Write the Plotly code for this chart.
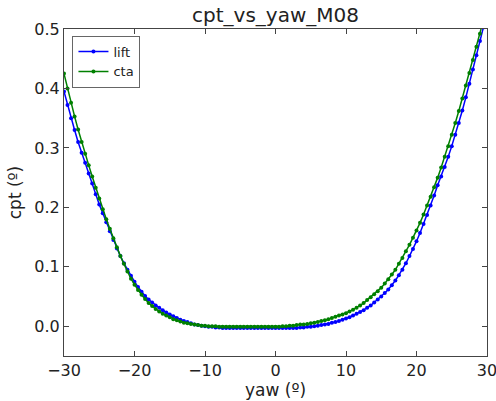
import plotly.graph_objects as go

# yaw angles, 0.5 deg steps from -30 to 30
yaw = [i / 2 for i in range(-60, 61)]

cpt_lift = [
    0.395, 0.372, 0.350, 0.330, 0.310, 0.292, 0.275, 0.257, 0.240, 0.222,
    0.205, 0.190, 0.175, 0.160, 0.145, 0.131, 0.118, 0.106, 0.095, 0.085,
    0.075, 0.066, 0.058, 0.051, 0.045, 0.040, 0.035, 0.031, 0.027, 0.023,
    0.020, 0.017, 0.014, 0.011, 0.009, 0.007, 0.005, 0.003, 0.002, 0.001,
    0.000, -0.001, -0.001, -0.002, -0.002, -0.003,
    -0.003, -0.003, -0.003, -0.003, -0.003, -0.003, -0.003, -0.003, -0.003, -0.003,
    -0.003, -0.003, -0.003, -0.003, -0.003, -0.003, -0.003, -0.003, -0.003, -0.003,
    -0.003, -0.002, -0.002, -0.001, -0.001, 0.000, 0.001, 0.002, 0.003, 0.004,
    0.006, 0.007, 0.009, 0.011, 0.013, 0.015, 0.018, 0.021, 0.024, 0.027,
    0.031, 0.035, 0.040, 0.045, 0.050, 0.056, 0.062, 0.069, 0.077, 0.086,
    0.095, 0.106, 0.118, 0.130, 0.143, 0.157, 0.172, 0.187, 0.203, 0.220,
    0.237, 0.252, 0.268, 0.285, 0.303, 0.322, 0.342, 0.363, 0.385, 0.408,
    0.432, 0.456, 0.480, 0.503, 0.527,
]

cpt_cta = [
    0.425, 0.400, 0.376, 0.353, 0.331, 0.310, 0.290, 0.271, 0.252, 0.233,
    0.215, 0.197, 0.180, 0.164, 0.148, 0.133, 0.118, 0.105, 0.092, 0.080,
    0.070, 0.061, 0.053, 0.046, 0.039, 0.034, 0.029, 0.025, 0.021, 0.018,
    0.015, 0.012, 0.010, 0.008, 0.006, 0.005, 0.004, 0.003, 0.002, 0.001,
    0.001, 0.000, 0.000, 0.000, -0.001,
    -0.001, -0.001, -0.001, -0.001, -0.001, -0.001, -0.001, -0.001,
    -0.001, -0.001, -0.001, -0.001, -0.001, -0.001, -0.001, -0.001,
    -0.001, 0.000, 0.000, 0.001, 0.001, 0.002, 0.003, 0.003, 0.004, 0.005,
    0.006, 0.007, 0.009, 0.010, 0.012, 0.014, 0.016, 0.018, 0.020, 0.022,
    0.025, 0.028, 0.031, 0.035, 0.039, 0.044, 0.049, 0.054, 0.059, 0.065,
    0.072, 0.079, 0.087, 0.095, 0.105, 0.115, 0.126, 0.137, 0.149, 0.161,
    0.174, 0.188, 0.203, 0.218, 0.234, 0.250, 0.267, 0.285, 0.303, 0.322,
    0.342, 0.362, 0.383, 0.405, 0.426, 0.448, 0.470, 0.492, 0.514, 0.537,
]

fig = go.Figure()
fig.add_trace(go.Scatter(x=yaw, y=cpt_lift, mode='lines+markers', name='lift',
                         line=dict(color='#0000ff', width=1.5),
                         marker=dict(color='#0000ff', size=4)))
fig.add_trace(go.Scatter(x=yaw, y=cpt_cta, mode='lines+markers', name='cta',
                         line=dict(color='#008000', width=1.5),
                         marker=dict(color='#008000', size=4)))

axis_style = dict(showline=True, linecolor='#444', linewidth=1, mirror='ticks',
                  ticks='inside', ticklen=5, tickcolor='#444', showgrid=False,
                  zeroline=False, automargin=False, ticklabeloverflow='allow',
                  tickfont=dict(size=16, color='#222'))

fig.update_xaxes(range=[-30, 30], tickvals=[-30, -20, -10, 0, 10, 20, 30],
                 title=dict(text='yaw (º)', font=dict(size=17), standoff=4),
                 **axis_style)
fig.update_yaxes(range=[-0.05, 0.5], dtick=0.1, tickformat='.1f',
                 title=dict(text='cpt (º)', font=dict(size=17), standoff=8),
                 **axis_style)

fig.update_layout(
    width=496, height=401,
    margin=dict(l=64, r=9, t=29, b=45),
    plot_bgcolor='white', paper_bgcolor='white',
    font=dict(family='DejaVu Sans', color='#222'),
    title=dict(text='cpt_vs_yaw_M08', x=0.5, xref='paper', y=0.962, yanchor='middle',
               font=dict(size=20), automargin=False),
    legend=dict(x=0.02, y=0.98, xanchor='left', yanchor='top',
                bordercolor='#666', borderwidth=1, bgcolor='white',
                font=dict(size=13)),
)

# drop the default page margin so the figure sits at the window's corner
fig.write_html("out.html", config={'displayModeBar': False},
               post_script="document.body.style.margin='0';")
